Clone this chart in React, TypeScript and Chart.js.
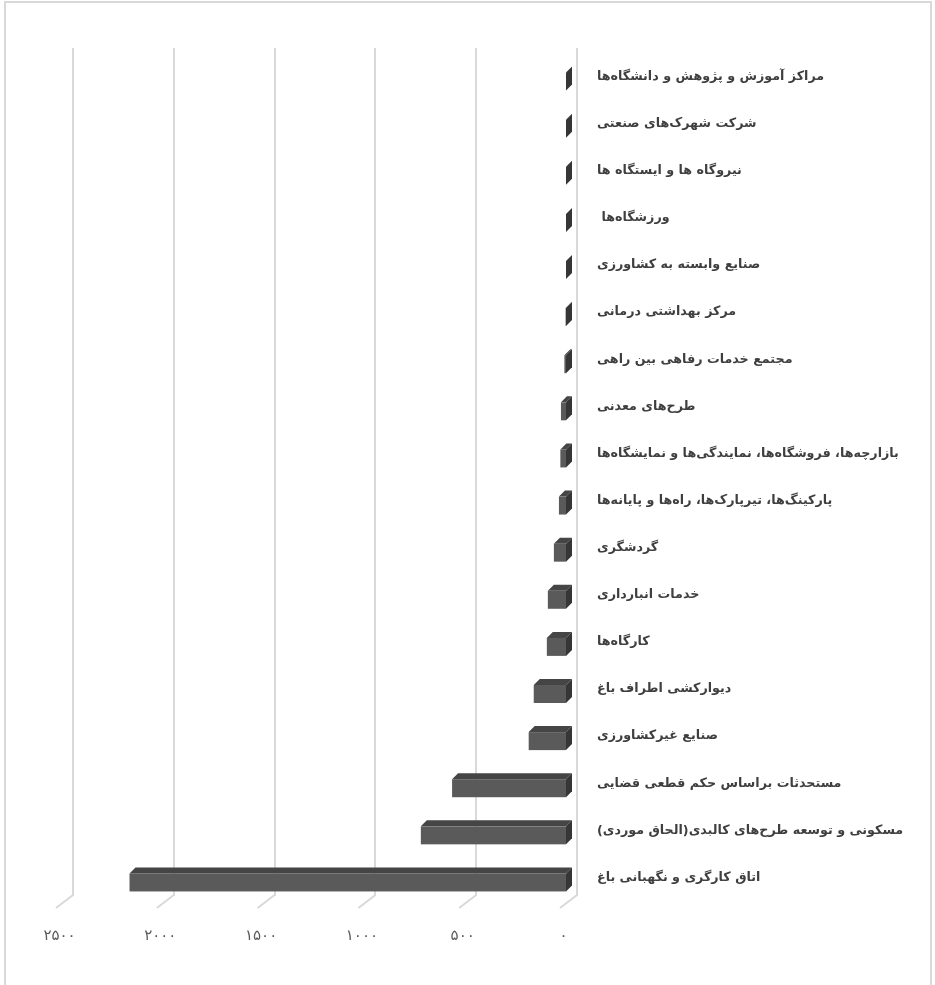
import React, { useEffect, useRef } from "react";
import { Chart, registerables } from "chart.js";

Chart.register(...registerables);

const categories: string[] = [
  "مراکز آموزش و پژوهش و دانشگاه‌ها",
  "شرکت شهرک‌های صنعتی",
  "نیروگاه ها و ایستگاه ها",
  "ورزشگاه‌ها ",
  "صنایع وابسته به کشاورزی",
  "مرکز بهداشتی درمانی",
  "مجتمع خدمات رفاهی بین راهی",
  "طرح‌های معدنی",
  "بازارچه‌ها، فروشگاه‌ها، نمایندگی‌ها و نمایشگاه‌ها",
  "پارکینگ‌ها، تیرپارک‌ها، راه‌ها و پایانه‌ها",
  "گردشگری",
  "خدمات انبارداری",
  "کارگاه‌ها",
  "دیوارکشی اطراف باغ",
  "صنایع غیرکشاورزی",
  "مستحدثات براساس حکم قطعی قضایی",
  "مسکونی و توسعه طرح‌های کالبدی(الحاق موردی)",
  "اتاق کارگری و نگهبانی باغ",
];

const values: number[] = [5, 5, 5, 5, 5, 7, 13, 30, 33, 40, 65, 95, 100, 165, 190, 570, 725, 2170];

const axisMin = 0;
const axisMax = 2500;
const axisStep = 500;

const persianDigits = "۰۱۲۳۴۵۶۷۸۹";
const toPersian = (n: number | string) => String(n).replace(/\d/g, (d) => persianDigits[+d]);

// 3D geometry (pixels)
const FRONT_DX = -10;
const FRONT_DY = 10;
const DEPTH = 6;
const LABEL_DX = -15;
const LABEL_Y = 936;
const LETTER_SPACING = 3;

const floorPlugin = {
  id: "floorLines",
  beforeDatasetsDraw(chart: any) {
    const ctx = chart.ctx;
    const xs = chart.scales.x;
    const bottom = chart.chartArea.bottom;
    ctx.save();
    ctx.strokeStyle = "#d9d9d9";
    ctx.lineWidth = 2;
    xs.ticks.forEach((t: any) => {
      const px = xs.getPixelForValue(t.value);
      ctx.beginPath();
      ctx.moveTo(px, bottom - 1);
      ctx.lineTo(px - 17, bottom + 12);
      ctx.stroke();
    });
    ctx.restore();
  },
  afterDraw(chart: any) {
    const ctx = chart.ctx;
    const xs = chart.scales.x;
    ctx.save();
    ctx.fillStyle = "#595959";
    ctx.font = "15px 'DejaVu Sans'";
    ctx.textAlign = "center";
    ctx.textBaseline = "middle";
    (ctx as any).letterSpacing = LETTER_SPACING + "px";
    xs.ticks.forEach((t: any) => {
      const px = xs.getPixelForValue(t.value);
      ctx.fillText(toPersian(t.value), px + LABEL_DX + LETTER_SPACING / 2, LABEL_Y);
    });
    ctx.restore();
  },
};

const bars3dPlugin = {
  id: "bars3d",
  afterDatasetsDraw(chart: any) {
    const ctx = chart.ctx;
    const meta = chart.getDatasetMeta(0);
    ctx.save();
    meta.data.forEach((el: any) => {
      const { x, y, base, height } = el.getProps(["x", "y", "base", "height"], true);
      const xL = Math.min(x, base) + FRONT_DX;
      const xR = Math.max(x, base) + FRONT_DX;
      const yT = y - height / 2 + FRONT_DY;
      const yB = yT + height;
      // top face
      ctx.fillStyle = "#454545";
      ctx.beginPath();
      ctx.moveTo(xL, yT);
      ctx.lineTo(xL + DEPTH, yT - DEPTH);
      ctx.lineTo(xR + DEPTH, yT - DEPTH);
      ctx.lineTo(xR, yT);
      ctx.closePath();
      ctx.fill();
      // side face
      ctx.fillStyle = "#363636";
      ctx.beginPath();
      ctx.moveTo(xR, yT);
      ctx.lineTo(xR + DEPTH, yT - DEPTH);
      ctx.lineTo(xR + DEPTH, yB - DEPTH);
      ctx.lineTo(xR, yB);
      ctx.closePath();
      ctx.fill();
      // front face
      ctx.fillStyle = "#5a5a5a";
      ctx.fillRect(xL, yT, xR - xL, height);
    });
    ctx.restore();
  },
};

export default function App() {
  const ref = useRef<HTMLCanvasElement | null>(null);

  useEffect(() => {
    if (!ref.current) return;
    const chart = new Chart(ref.current, {
      type: "bar",
      data: {
        labels: categories,
        datasets: [
          {
            data: values,
            backgroundColor: "rgba(0,0,0,0)",
            borderWidth: 0,
            barPercentage: 0.382,
            categoryPercentage: 1,
          },
        ],
      },
      options: {
        indexAxis: "y",
        responsive: false,
        animation: false,
        events: [],
        layout: { padding: { left: 73, top: 48, right: 0, bottom: 0 } },
        plugins: {
          legend: { display: false },
          tooltip: { enabled: false },
        },
        scales: {
          x: {
            type: "linear",
            reverse: true,
            min: axisMin,
            max: axisMax,
            grid: { color: "#d9d9d9", lineWidth: 2, drawTicks: false },
            border: { display: false },
            ticks: {
              stepSize: axisStep,
              display: false,
            },
            afterFit: (s: any) => {
              s.height = 89;
            },
          },
          y: {
            type: "category",
            position: "right",
            grid: { display: false, drawTicks: false },
            border: { display: false },
            ticks: {
              padding: 20,
              labelOffset: 5,
              color: "#3f3f3f",
              font: { family: "DejaVu Sans", size: 12.7, weight: "bold" },
            },
            afterFit: (s: any) => {
              s.width = 358;
            },
          },
        },
      },
      plugins: [floorPlugin, bars3dPlugin],
    });
    return () => chart.destroy();
  }, []);

  return (
    <div style={{ position: "fixed", left: 0, top: 0, width: 935, height: 985, overflow: "hidden", background: "#fff" }}>
      <div
        style={{
          position: "absolute",
          left: 4,
          top: 1,
          width: 924,
          height: 1100,
          border: "2px solid #d9d9d9",
        }}
      />
      <canvas
        ref={ref}
        width={935}
        height={985}
        style={{ position: "absolute", left: 0, top: 0, direction: "rtl" }}
      />
    </div>
  );
}
